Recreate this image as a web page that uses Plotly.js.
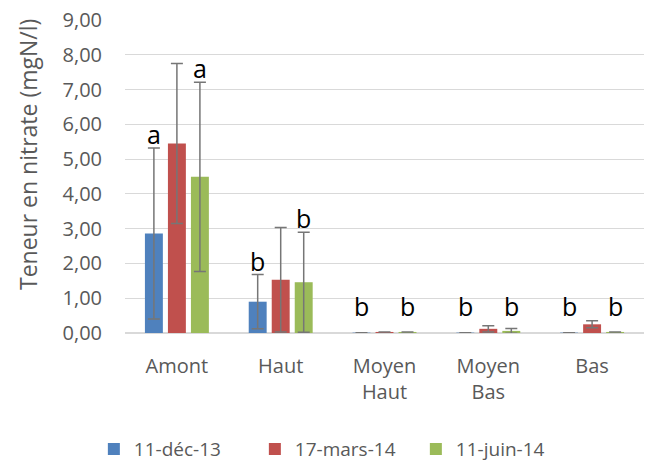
<!DOCTYPE html>
<html>
<head>
<meta charset="utf-8">
<script src="https://cdn.plot.ly/plotly-3.0.1.min.js"></script>
<style>html,body{margin:0;padding:0;background:#fff;}#chart{width:645px;height:462px;}</style>
</head>
<body>
<div id="chart"></div>
<script>
var categories = ["Amont", "Haut", "Moyen<br>Haut", "Moyen<br>Bas", "Bas"];
var seriesNames = ["11-déc-13", "17-mars-14", "11-juin-14"];
var decValues = [2.86, 0.90, 0.01, 0.01, 0.01];
var decErrors = [2.46, 0.78, 0.00, 0.00, 0.00];
var marValues = [5.45, 1.53, 0.03, 0.12, 0.25];
var marErrors = [2.30, 1.50, 0.00, 0.09, 0.10];
var junValues = [4.49, 1.46, 0.03, 0.06, 0.03];
var junErrors = [2.72, 1.44, 0.00, 0.07, 0.00];
var decLetters = ["a", "b", "b", "b", "b"];
var junLetters = ["a", "b", "b", "b", "b"];
var yTitle = "Teneur en nitrate (mgN/l)";
var yTickVals = [0, 1, 2, 3, 4, 5, 6, 7, 8, 9];
var yTickText = ["0,00", "1,00", "2,00", "3,00", "4,00", "5,00", "6,00", "7,00", "8,00", "9,00"];

var colors = ["#4f81bd", "#c0504d", "#9bbb59"];
var vals = [decValues, marValues, junValues];
var errs = [decErrors, marErrors, junErrors];
var font = "'Open Sans', 'Liberation Sans', sans-serif";

var traces = vals.map(function (v, i) {
  return {
    type: "bar",
    name: seriesNames[i],
    x: categories,
    y: v,
    marker: {color: colors[i]},
    error_y: {type: "data", array: errs[i], visible: true, color: "#767676", thickness: 1.5, width: 6},
    hoverinfo: "y"
  };
});

var annotations = [];
function addLetters(letters, v, e, shift) {
  letters.forEach(function (t, k) {
    var top = Math.max(v[k] + e[k], 0.38);
    annotations.push({
      x: categories[k], y: top, xref: "x", yref: "y",
      text: t, showarrow: false, xanchor: "center", yanchor: "bottom",
      xshift: shift, yshift: -5,
      font: {family: font, size: 25, color: "#000"}
    });
  });
}
addLetters(decLetters, decValues, decErrors, -23);
addLetters(junLetters, junValues, junErrors, 23);

// y-axis title, placed as the reference shows it (slightly above plot centre)
annotations.push({
  text: yTitle, xref: "paper", yref: "paper",
  x: -97 / 519, y: (333 - 155) / 313, xanchor: "center", yanchor: "middle",
  textangle: -90, showarrow: false,
  font: {family: font, size: 23, color: "#595959"}
});

var layout = {
  width: 645, height: 462,
  margin: {l: 125, r: 1, t: 20, b: 129, autoexpand: false},
  paper_bgcolor: "#fff", plot_bgcolor: "#fff",
  barmode: "group", bargap: 0.335, bargroupgap: 0.22,
  font: {family: font, color: "#595959", size: 20},
  showlegend: true,
  legend: {orientation: "h", x: -0.06, xanchor: "left", y: -0.31, yanchor: "top",
           entrywidth: 116, entrywidthmode: "pixels",
           font: {family: font, size: 19, color: "#595959"}, itemwidth: 30, tracegroupgap: 0},
  xaxis: {
    type: "category", showgrid: false, zeroline: false, showline: false, automargin: false,
    tickfont: {family: font, size: 20, color: "#595959"}, ticks: "", ticklabelstandoff: 19
  },
  yaxis: {
    range: [0, 9], tickvals: yTickVals, ticktext: yTickText, automargin: false,
    showgrid: true, gridcolor: "#d9d9d9", gridwidth: 1.2,
    zeroline: true, zerolinecolor: "#d9d9d9", zerolinewidth: 1.2,
    showline: false, ticks: "", ticklabelstandoff: 22,
    tickfont: {family: font, size: 20, color: "#595959"}
  },
  annotations: annotations
};

Plotly.newPlot("chart", traces, layout, {displayModeBar: false, staticPlot: true});
</script>
</body>
</html>
